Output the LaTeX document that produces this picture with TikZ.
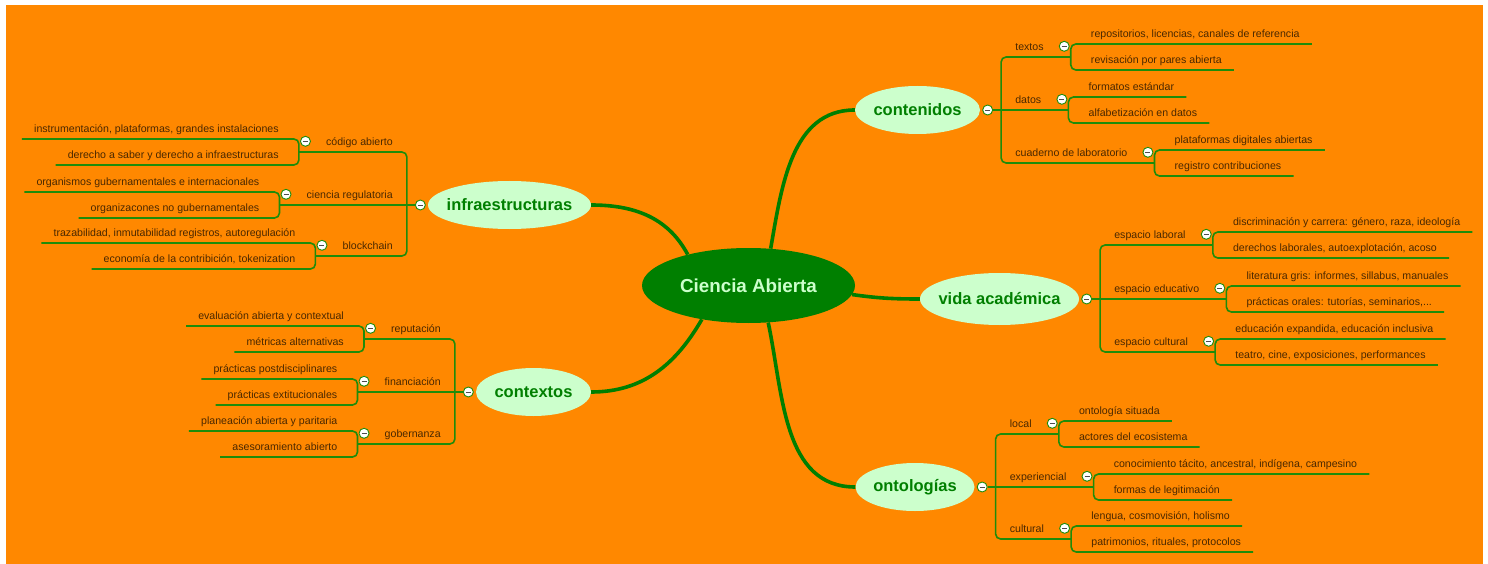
\documentclass[tikz,border=0pt]{standalone}
\usepackage{fontspec}
\setmainfont{Liberation Sans}
\usetikzlibrary{positioning,shapes.geometric}
\definecolor{bgorange}{HTML}{FF8800}
\definecolor{palegreen}{HTML}{CCFFCC}
\definecolor{darkgreen}{HTML}{007F00}
\definecolor{linegreen}{HTML}{1E8C0A}
\definecolor{labeltext}{HTML}{4A2800}
\begin{document}
\begin{tikzpicture}[
        x=1pt, y=-1pt,
        root/.style={ellipse, fill=darkgreen, text=palegreen, inner sep=0pt,
            minimum width=213pt, minimum height=75pt,
            font=\bfseries\fontsize{18.8}{22}\selectfont},
        topic/.style={ellipse, fill=palegreen, text=darkgreen, inner xsep=-40pt, inner ysep=-10pt,
            minimum width=#1, minimum height=48pt,
            font=\bfseries\fontsize{16.5}{20}\selectfont},
        sub/.style={inner xsep=14pt, inner ysep=3pt, text height=8pt, text depth=3pt,
            text=labeltext, font=\fontsize{10.6}{12}\selectfont},
        leaf/.style={sub, inner xsep=12pt},
        knob/.style={circle, draw=linegreen, fill=white, line width=0.9pt,
            minimum size=10pt, inner sep=0pt,
            path picture={\draw[line width=0.9pt, gray!60!black]
                ([xshift=-2.5pt]path picture bounding box.center) --
                ([xshift=2.5pt]path picture bounding box.center);}},
        stem/.style={draw=darkgreen, line width=3.6pt},
        branch/.style={draw=linegreen, line width=1.6pt, rounded corners=5pt}
    ]
    \useasboundingbox (0,0) rectangle (1488,564);
    \fill[bgorange] (6,5) rectangle (1483,564);

    \node[root] (ca) at (748.5,285.5) {Ciencia Abierta};

    % infraestructuras
    \node[topic=163pt] (inf) at (509.5,205) {infraestructuras};
    \node[knob, left=2pt of inf] (ik) {};
    \coordinate[left=8pt of ik] (it);
    \node[sub, anchor=south east] (cod) at ([yshift=53pt]it) {código abierto};
    \node[sub, anchor=south east] (reg) at (it) {ciencia regulatoria};
    \node[sub, anchor=south east] (blk) at ([yshift=-51pt]it) {blockchain};
    \node[knob, left=1pt of cod, yshift=2pt] (codk) {};
    \node[knob, left=1pt of reg, yshift=2pt] (regk) {};
    \node[knob, left=1pt of blk, yshift=2pt] (blkk) {};
    \coordinate (codj) at ([xshift=-13pt]cod.south west);
    \coordinate (regj) at ([xshift=-13pt]reg.south west);
    \coordinate (blkj) at ([xshift=-13pt]blk.south west);
    \node[leaf, anchor=south east] (ins) at ([shift={(-8pt,13pt)}]codj) {instrumentación, plataformas, grandes instalaciones};
    \node[leaf, anchor=south east] (der) at ([shift={(-8pt,-13pt)}]codj) {derecho a saber y derecho a infraestructuras};
    \node[leaf, anchor=south east] (org) at ([shift={(-8pt,13pt)}]regj) {organismos gubernamentales e internacionales};
    \node[leaf, anchor=south east] (ong) at ([shift={(-8pt,-13pt)}]regj) {organizacones no gubernamentales};
    \node[leaf, anchor=south east] (tra) at ([shift={(-8pt,13pt)}]blkj) {trazabilidad, inmutabilidad registros, autoregulación};
    \node[leaf, anchor=south east] (eco) at ([shift={(-8pt,-13pt)}]blkj) {economía de la contribición, tokenization};

    % contextos
    \node[topic=115pt] (ctx) at (533.5,392) {contextos};
    \node[knob, left=2pt of ctx] (xk) {};
    \coordinate[left=8pt of xk] (xt);
    \node[sub, anchor=south east] (repu) at ([yshift=53pt]xt) {reputación};
    \node[sub, anchor=south east] (fin) at (xt) {financiación};
    \node[sub, anchor=south east] (gob) at ([yshift=-52pt]xt) {gobernanza};
    \node[knob, left=1pt of repu, yshift=2pt] (repuk) {};
    \node[knob, left=1pt of fin, yshift=2pt] (fink) {};
    \node[knob, left=1pt of gob, yshift=2pt] (gobk) {};
    \coordinate (repuj) at ([xshift=-13pt]repu.south west);
    \coordinate (finj) at ([xshift=-13pt]fin.south west);
    \coordinate (gobj) at ([xshift=-13pt]gob.south west);
    \node[leaf, anchor=south east] (eva) at ([shift={(-8pt,13pt)}]repuj) {evaluación abierta y contextual};
    \node[leaf, anchor=south east] (met) at ([shift={(-8pt,-13pt)}]repuj) {métricas alternativas};
    \node[leaf, anchor=south east] (pos) at ([shift={(-8pt,13pt)}]finj) {prácticas postdisciplinares};
    \node[leaf, anchor=south east] (ext) at ([shift={(-8pt,-13pt)}]finj) {prácticas extitucionales};
    \node[leaf, anchor=south east] (pla) at ([shift={(-8pt,13pt)}]gobj) {planeación abierta y paritaria};
    \node[leaf, anchor=south east] (ase) at ([shift={(-8pt,-13pt)}]gobj) {asesoramiento abierto};

    % contenidos
    \node[topic=125pt] (cnt) at (917.5,110) {contenidos};
    \node[knob, right=2pt of cnt] (ck) {};
    \coordinate[right=8pt of ck] (ct);
    \node[sub, anchor=south west] (tex) at ([yshift=53pt]ct) {textos};
    \node[sub, anchor=south west] (dat) at (ct) {datos};
    \node[sub, anchor=south west] (cua) at ([yshift=-53pt]ct) {cuaderno de laboratorio};
    \node[knob, right=1pt of tex, yshift=2pt] (texk) {};
    \node[knob, right=1pt of dat, yshift=2pt] (datk) {};
    \node[knob, right=1pt of cua, yshift=2pt] (cuak) {};
    \coordinate (texj) at ([xshift=13pt]tex.south east);
    \coordinate (datj) at ([xshift=13pt]dat.south east);
    \coordinate (cuaj) at ([xshift=13pt]cua.south east);
    \node[leaf, anchor=south west] (rpo) at ([shift={(8pt,13pt)}]texj) {repositorios, licencias, canales de referencia};
    \node[leaf, anchor=south west] (rev) at ([shift={(8pt,-13pt)}]texj) {revisación por pares abierta};
    \node[leaf, anchor=south west] (fmt) at ([shift={(8pt,13pt)}]datj) {formatos estándar};
    \node[leaf, anchor=south west] (alf) at ([shift={(8pt,-13pt)}]datj) {alfabetización en datos};
    \node[leaf, anchor=south west] (pda) at ([shift={(8pt,13pt)}]cuaj) {plataformas digitales abiertas};
    \node[leaf, anchor=south west] (rco) at ([shift={(8pt,-13pt)}]cuaj) {registro contribuciones};

    % vida academica
    \node[topic=159pt, minimum height=52pt] (vid) at (999.5,299) {vida académica};
    \node[knob, right=2pt of vid] (vk) {};
    \coordinate[right=8pt of vk] (vt);
    \node[sub, anchor=south west] (lab) at ([yshift=54pt]vt) {espacio laboral};
    \node[sub, anchor=south west] (edu) at (vt) {espacio educativo};
    \node[sub, anchor=south west] (cul) at ([yshift=-53pt]vt) {espacio cultural};
    \node[knob, right=1pt of lab, yshift=2pt] (labk) {};
    \node[knob, right=1pt of edu, yshift=2pt] (eduk) {};
    \node[knob, right=1pt of cul, yshift=2pt] (culk) {};
    \coordinate (labj) at ([xshift=13pt]lab.south east);
    \coordinate (eduj) at ([xshift=13pt]edu.south east);
    \coordinate (culj) at ([xshift=13pt]cul.south east);
    \node[leaf, anchor=south west] (dis) at ([shift={(8pt,13pt)}]labj) {discriminación y carrera: género, raza, ideología};
    \node[leaf, anchor=south west] (dlb) at ([shift={(8pt,-13pt)}]labj) {derechos laborales, autoexplotación, acoso};
    \node[leaf, anchor=south west] (lit) at ([shift={(8pt,13pt)}]eduj) {literatura gris: informes, sillabus, manuales};
    \node[leaf, anchor=south west] (pra) at ([shift={(8pt,-13pt)}]eduj) {prácticas orales: tutorías, seminarios,...};
    \node[leaf, anchor=south west] (exa) at ([shift={(8pt,13pt)}]culj) {educación expandida, educación inclusiva};
    \node[leaf, anchor=south west] (tea) at ([shift={(8pt,-13pt)}]culj) {teatro, cine, exposiciones, performances};

    % ontologias
    \node[topic=119pt] (ont) at (915,487) {ontologías};
    \node[knob, right=2pt of ont] (ok) {};
    \coordinate[right=8pt of ok] (ot);
    \node[sub, anchor=south west] (loc) at ([yshift=53pt]ot) {local};
    \node[sub, anchor=south west] (xpe) at (ot) {experiencial};
    \node[sub, anchor=south west] (ocu) at ([yshift=-52pt]ot) {cultural};
    \node[knob, right=1pt of loc, yshift=2pt] (lock) {};
    \node[knob, right=1pt of xpe, yshift=2pt] (xpek) {};
    \node[knob, right=1pt of ocu, yshift=2pt] (ocuk) {};
    \coordinate (locj) at ([xshift=13pt]loc.south east);
    \coordinate (xpej) at ([xshift=13pt]xpe.south east);
    \coordinate (ocuj) at ([xshift=13pt]ocu.south east);
    \node[leaf, anchor=south west] (sit) at ([shift={(8pt,13pt)}]locj) {ontología situada};
    \node[leaf, anchor=south west] (act) at ([shift={(8pt,-13pt)}]locj) {actores del ecosistema};
    \node[leaf, anchor=south west] (con) at ([shift={(8pt,13pt)}]xpej) {conocimiento tácito, ancestral, indígena, campesino};
    \node[leaf, anchor=south west] (leg) at ([shift={(8pt,-13pt)}]xpej) {formas de legitimación};
    \node[leaf, anchor=south west] (len) at ([shift={(8pt,13pt)}]ocuj) {lengua, cosmovisión, holismo};
    \node[leaf, anchor=south west] (pat) at ([shift={(8pt,-13pt)}]ocuj) {patrimonios, rituales, protocolos};

    % stems
    \draw[stem] (inf.east) to[out=0,in=118] (ca.153);
    \draw[stem] (ctx.east) to[out=0,in=240] (ca.216);
    \draw[stem] (ca.59) to[out=80,in=180] (cnt.west);
    \draw[stem] (ca.-5) to[out=-8,in=180] (vid.west);
    \draw[stem] (ca.-62) to[out=-78,in=180] (ont.west);

    % branches
    \draw[branch] (ik.west) -- (regj);
    \draw[branch] (codj) -- (cod.south east) -- (blk.south east) -- (blkj);
    \draw[branch] (ins.south west) -| (codj) |- (der.south west);
    \draw[branch] (org.south west) -| (regj) |- (ong.south west);
    \draw[branch] (tra.south west) -| (blkj) |- (eco.south west);

    \draw[branch] (xk.west) -- (finj);
    \draw[branch] (repuj) -- (repu.south east) -- (gob.south east) -- (gobj);
    \draw[branch] (eva.south west) -| (repuj) |- (met.south west);
    \draw[branch] (pos.south west) -| (finj) |- (ext.south west);
    \draw[branch] (pla.south west) -| (gobj) |- (ase.south west);

    \draw[branch] (ck.east) -- (datj);
    \draw[branch] (texj) -- (tex.south west) -- (cua.south west) -- (cuaj);
    \draw[branch] (rpo.south east) -| (texj) |- (rev.south east);
    \draw[branch] (fmt.south east) -| (datj) |- (alf.south east);
    \draw[branch] (pda.south east) -| (cuaj) |- (rco.south east);

    \draw[branch] (vk.east) -- (eduj);
    \draw[branch] (labj) -- (lab.south west) -- (cul.south west) -- (culj);
    \draw[branch] (dis.south east) -| (labj) |- (dlb.south east);
    \draw[branch] (lit.south east) -| (eduj) |- (pra.south east);
    \draw[branch] (exa.south east) -| (culj) |- (tea.south east);

    \draw[branch] (ok.east) -- (xpej);
    \draw[branch] (locj) -- (loc.south west) -- (ocu.south west) -- (ocuj);
    \draw[branch] (sit.south east) -| (locj) |- (act.south east);
    \draw[branch] (con.south east) -| (xpej) |- (leg.south east);
    \draw[branch] (len.south east) -| (ocuj) |- (pat.south east);
\end{tikzpicture}
\end{document}
